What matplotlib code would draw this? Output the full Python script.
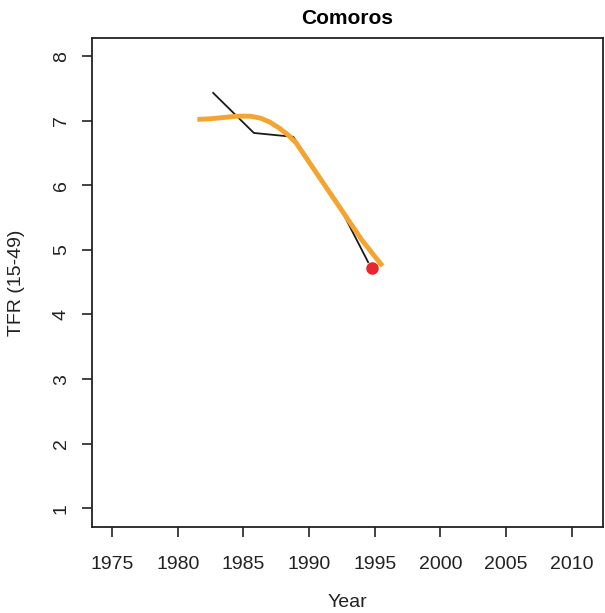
import matplotlib
matplotlib.use("Agg")
import matplotlib.pyplot as plt

plt.rcParams["font.family"] = ["Liberation Sans", "DejaVu Sans"]

# observed TFR series (black)
obs_year = [1982.7, 1985.8, 1988.8, 1992.2, 1994.5]
obs_tfr = [7.43, 6.81, 6.75, 5.72, 4.81]

# smoothed fit (orange)
fit_year = [1981.5, 1982.5, 1983.5, 1984.5, 1985.5, 1986.3, 1987.0, 1987.7, 1988.4,
            1989.0, 1990.0, 1991.0, 1992.0, 1993.0, 1994.0, 1995.0, 1995.6]
fit_tfr = [7.02, 7.03, 7.05, 7.07, 7.07, 7.04, 6.98, 6.89, 6.78,
           6.66, 6.36, 6.06, 5.76, 5.46, 5.16, 4.90, 4.75]

# last point (red)
pt_year = [1994.8]
pt_tfr = [4.72]

xticks = [1975, 1980, 1985, 1990, 1995, 2000, 2005, 2010]
yticks = [1, 2, 3, 4, 5, 6, 7, 8]

fig = plt.figure(figsize=(6.05, 6.13), dpi=100)
ax = fig.add_axes([0.152, 0.1403, 0.845, 0.7977])

ax.plot(obs_year, obs_tfr, color="#1a1a1a", lw=1.3)
ax.plot(fit_year, fit_tfr, color="#F5A430", lw=3.5, solid_capstyle="butt", solid_joinstyle="round")
ax.plot(pt_year, pt_tfr, "o", color="#E8262B", ms=8)

ax.set_xlim(1973.47, 2012.4)
ax.set_ylim(0.71, 8.28)
ax.set_xticks(xticks)
ax.set_yticks(yticks)
ax.tick_params(axis="both", direction="out", length=7, width=1.2, labelsize=14, colors="#222222")
ax.tick_params(axis="x", pad=14)
ax.tick_params(axis="y", pad=9)
for lab in ax.get_yticklabels():
    lab.set_rotation(90)
    lab.set_va("center")
for s in ax.spines.values():
    s.set_linewidth(1.3)
    s.set_color("#222222")

ax.set_title("Comoros", fontsize=15, fontweight="bold", pad=10)
ax.set_xlabel("Year", fontsize=14, labelpad=15, color="#222222")
ax.set_ylabel("TFR (15-49)", fontsize=14, labelpad=20, color="#222222")

fig.savefig("out.png", dpi=100)
